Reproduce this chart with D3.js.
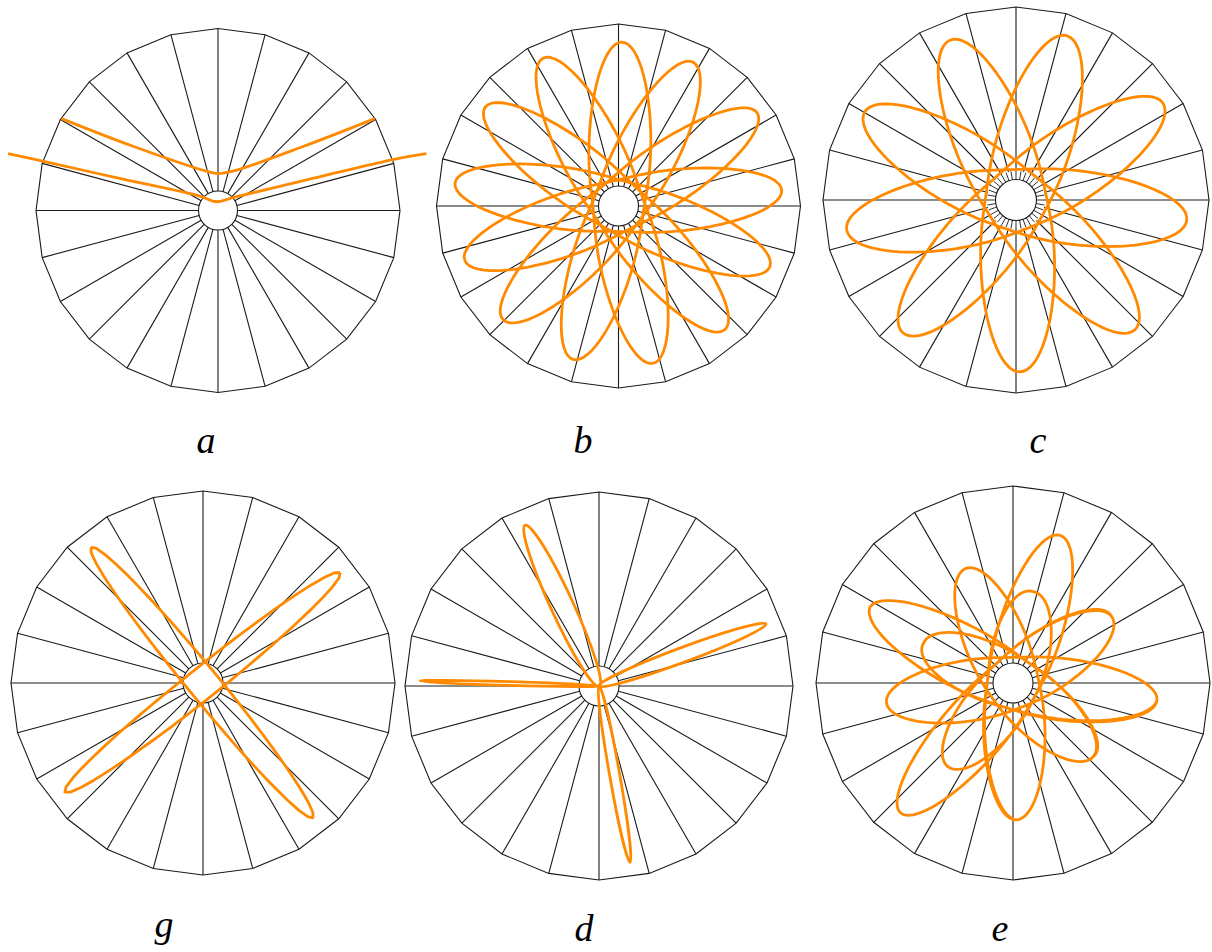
<!DOCTYPE html>
<html>
<head>
<meta charset="utf-8">
<script src="https://cdn.jsdelivr.net/npm/d3@7"></script>
<style>
  html, body { margin: 0; padding: 0; background: #fff; }
  svg { display: block; }
</style>
</head>
<body>
<svg id="chart" width="1212" height="952"></svg>
<script>
// ---- data (angles in degrees, counter-clockwise from east; radii as a fraction of the wheel radius)
const panelLabels = ["a", "b", "c", "g", "d", "e"];
const spokeAngles = [0, 15, 30, 45, 60, 75, 90, 105, 120, 135, 150, 165, 180, 195, 210, 225, 240, 255, 270, 285, 300, 315, 330, 345];
const hubTicksC = [0, 10, 20, 30, 40, 50, 60, 70, 80, 90, 100, 110, 120, 130, 140, 150, 160, 170,
  180, 190, 200, 210, 220, 230, 240, 250, 260, 270, 280, 290, 300, 310, 320, 330, 340, 350];

// a: two fly-by tracks, [x, y] with y up
const flybyUpper = [[-0.86, 0.505], [-0.467, 0.353], [-0.064, 0.216], [0, 0.203], [0.081, 0.216], [0.471, 0.353], [0.861, 0.505]];
const flybyLower = [[-1.154, 0.313], [-0.963, 0.271], [-0.54, 0.176], [-0.1, 0.079], [-0.009, 0.048], [0.081, 0.071], [0.52, 0.176], [0.96, 0.28], [1.145, 0.313]];

// b, c, e, g: apocentres in the order the orbit visits them, plus the pericentre radius
const apsesB = [
  { angle: -160.6, r: 0.896 }, { angle: 33.9, r: 0.918 }, { angle: -135.4, r: 0.89 }, { angle: 62.6, r: 0.89 },
  { angle: -106.5, r: 0.879 }, { angle: 88.8, r: 0.901 }, { angle: -77.6, r: 0.885 }, { angle: 117, r: 0.912 },
  { angle: -49.3, r: 0.896 }, { angle: 143.4, r: 0.912 }, { angle: -21.9, r: 0.896 }, { angle: 172, r: 0.907 },
  { angle: 5.6, r: 0.901 }
];
const periB = 0.14;

const apsesC = [
  { angle: -170, r: 0.891 }, { angle: 33.4, r: 0.912 }, { angle: -130.4, r: 0.904 }, { angle: 72.8, r: 0.891 },
  { angle: -88.7, r: 0.891 }, { angle: 112.4, r: 0.896 }, { angle: -47.5, r: 0.912 }, { angle: 149.8, r: 0.907 },
  { angle: -6.7, r: 0.891 }
];
const periC = 0.158;

const apsesG1 = [{ angle: 129.5, r: 0.917 }, { angle: -50.8, r: 0.906 }];
const apsesG2 = [{ angle: 38.8, r: 0.917 }, { angle: -141.7, r: 0.917 }];
const periG = 0.08;

// e: two laps round nine directions; where a petal is seen only once both laps overlap it
const apsesE = [
  { angle: -131, r: 0.873 }, { angle: 72.4, r: 0.787 }, { angle: -88.5, r: 0.695 }, { angle: 112.7, r: 0.629 },
  { angle: -42.5, r: 0.553 }, { angle: 156, r: 0.497 }, { angle: -6.7, r: 0.736 }, { angle: -170.9, r: 0.65 },
  { angle: 33.9, r: 0.604 },
  { angle: -127.7, r: 0.538 }, { angle: 77.5, r: 0.475 }, { angle: -88.5, r: 0.695 }, { angle: 112.7, r: 0.629 },
  { angle: -42.5, r: 0.553 }, { angle: 151.9, r: 0.822 }, { angle: -6.7, r: 0.736 }, { angle: -170.9, r: 0.65 },
  { angle: 33.9, r: 0.604 }
];
const periE = 0.13;

// d: narrow loops out of the centre: direction, apocentre, half width
const loopsD = [
  { angle: 114.7, r: 0.912, w: 0.058 },
  { angle: 20.4, r: 0.918, w: 0.038 },
  { angle: -80, r: 0.923, w: 0.026 },
  { angle: 178.4, r: 0.923, w: 0.01 }
];

// ---- layout
const wheels = [
  { cx: 218, cy: 210.5, R: 182, rin: 19.5, lx: 206, ly: 453 },
  { cx: 618.5, cy: 206, R: 182, rin: 20, lx: 583, ly: 453 },
  { cx: 1016, cy: 200, R: 193, rin: 20.5, lx: 1038, ly: 453 },
  { cx: 203, cy: 683, R: 192, rin: 20, lx: 164, ly: 937 },
  { cx: 599, cy: 686, R: 194, rin: 20, lx: 584, ly: 941 },
  { cx: 1013, cy: 683, R: 197, rin: 20, lx: 1000, ly: 941 }
];

const ORANGE = "#ff8a00";
const INK = "#1a1a1a";
const TRACK_W = 2.8;

const svg = d3.select("#chart");
const angle = d3.scaleLinear().domain([0, 360]).range([Math.PI / 2, Math.PI / 2 - 2 * Math.PI]);

// precessing orbit: each half orbit runs apocentre -> pericentre -> next apocentre,
// shape r^-n = m - k cos(2 psi)  (n = 2 is a centred ellipse, smaller n gives fuller loops)
function orbitPath(aps, peri, closed, n) {
  const pts = [];
  const count = closed ? aps.length : aps.length - 1;
  const steps = 160;
  for (let i = 0; i < count; i++) {
    const A = aps[i], B = aps[(i + 1) % aps.length];
    const sweep = ((B.angle - A.angle) % 360 + 360) % 360;
    for (let k = 0; k <= steps; k++) {
      const psi = 180 * k / steps;
      const semi = A.r + (B.r - A.r) * k / steps;
      const lo = Math.pow(semi, -n), hi = Math.pow(peri, -n);
      const inv = (lo + hi) / 2 - (hi - lo) / 2 * Math.cos(2 * psi * Math.PI / 180);
      pts.push([A.angle + psi * sweep / 180, Math.pow(inv, -1 / n)]);
    }
  }
  return pts;
}

function drawWheel(i, hubR) {
  const cfg = wheels[i];
  const g = svg.append("g").attr("transform", `translate(${cfg.cx},${cfg.cy})`);
  const r = d3.scaleLinear().domain([0, 1]).range([0, cfg.R]);
  const rin = r.invert(cfg.rin);
  const from = r.invert(hubR || cfg.rin);
  const line = d3.lineRadial().angle(d => angle(d[0])).radius(d => r(d[1]));
  const ring = d3.lineRadial().angle(d => angle(d[0])).radius(d => r(d[1])).curve(d3.curveLinearClosed);

  const frame = g.append("g").attr("fill", "none").attr("stroke", INK).attr("stroke-width", 1.1);
  frame.append("path").attr("d", ring(spokeAngles.map(a => [a, 1])));
  frame.selectAll(".spoke").data(spokeAngles).join("path")
    .attr("class", "spoke")
    .attr("d", a => line([[a, from], [a, 1]]));
  frame.append("circle").attr("r", r(rin));

  svg.append("text")
    .attr("x", cfg.lx).attr("y", cfg.ly)
    .attr("text-anchor", "middle")
    .attr("font-family", "'Liberation Serif', 'Times New Roman', serif")
    .attr("font-style", "italic")
    .attr("font-size", 38)
    .attr("fill", "#000")
    .text(panelLabels[i]);

  return { g, r, line, frame };
}

function orbit(w, aps, peri, closed, n) {
  w.g.append("path")
    .attr("d", w.line(orbitPath(aps, peri, closed, n)))
    .attr("fill", "none")
    .attr("stroke", ORANGE)
    .attr("stroke-width", TRACK_W)
    .attr("stroke-linejoin", "round");
}

// a
const wA = drawWheel(0);
const xA = d3.scaleLinear().domain([-1, 1]).range([-wheels[0].R, wheels[0].R]);
const yA = d3.scaleLinear().domain([-1, 1]).range([wheels[0].R, -wheels[0].R]);
const track = d3.line().x(d => xA(d[0])).y(d => yA(d[1])).curve(d3.curveCatmullRom.alpha(0.5));
wA.g.selectAll(".flyby").data([flybyUpper, flybyLower]).join("path")
  .attr("class", "flyby")
  .attr("d", track)
  .attr("fill", "none")
  .attr("stroke", ORANGE)
  .attr("stroke-width", TRACK_W);

// b
const wB = drawWheel(1);
orbit(wB, apsesB, periB, true, 1.5);

// c (fine ticks round the hub, spokes start outside them)
const wC = drawWheel(2, 29);
wC.frame.selectAll(".tick").data(hubTicksC).join("path")
  .attr("class", "tick")
  .attr("stroke-width", 0.9)
  .attr("d", a => wC.line([[a, wC.r.invert(wheels[2].rin)], [a, wC.r.invert(29)]]));
orbit(wC, apsesC, periC, true, 1.5);

// g
const wG = drawWheel(3);
orbit(wG, apsesG1, periG, true, 2);
orbit(wG, apsesG2, periG, true, 2);

// d
const wD = drawWheel(4);
wD.g.selectAll(".loop").data(loopsD).join("ellipse")
  .attr("class", "loop")
  .each(function (d) {
    const ra = wD.r(d.r), b = wD.r(d.w), rp = b * b / ra;
    d3.select(this)
      .attr("cx", (ra - rp) / 2).attr("cy", 0)
      .attr("rx", (ra + rp) / 2).attr("ry", b)
      .attr("transform", `rotate(${-d.angle})`);
  })
  .attr("fill", "none")
  .attr("stroke", ORANGE)
  .attr("stroke-width", TRACK_W);

// e
const wE = drawWheel(5);
orbit(wE, apsesE, periE, true, 1.5);
</script>
</body>
</html>
